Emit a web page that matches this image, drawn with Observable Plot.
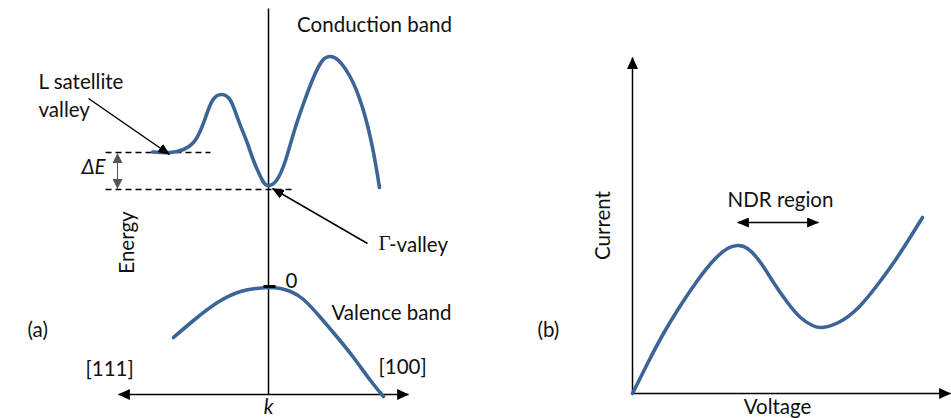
<!DOCTYPE html>
<html>
<head>
<meta charset="utf-8">
<script src="https://cdn.jsdelivr.net/npm/d3@7"></script>
<script src="https://cdn.jsdelivr.net/npm/@observablehq/plot@0.6"></script>
<style>
  html, body { margin: 0; padding: 0; background: #fff; }
  #wrap { display: flex; width: 951px; height: 418px; }
  svg { overflow: visible; }
</style>
</head>
<body>
<div id="wrap"></div>
<script>
// ---------- data ----------
// Panel (a): band structure, k (arbitrary units, 0 = Γ) vs energy (arbitrary units, 0 = valence top)
const condK = [-1.16, -0.98, -0.85, -0.75, -0.68, -0.63, -0.56, -0.47, -0.38, -0.30, -0.21, -0.15, -0.06, 0, 0.08, 0.17, 0.25, 0.35, 0.45, 0.54, 0.62, 0.70, 0.82, 0.94, 1.04, 1.11];
const condE = [1.355, 1.35, 1.38, 1.45, 1.57, 1.70, 1.87, 1.93, 1.87, 1.67, 1.44, 1.27, 1.07, 1.02, 1.07, 1.27, 1.54, 1.84, 2.10, 2.27, 2.31, 2.27, 2.10, 1.80, 1.40, 1.00];
const valK = [-0.95, -0.75, -0.51, -0.28, -0.12, 0, 0.12, 0.22, 0.35, 0.52, 0.69, 0.85, 1.02, 1.15];
const valE = [-0.50, -0.33, -0.15, -0.04, -0.01, 0, -0.01, -0.04, -0.12, -0.30, -0.50, -0.70, -0.93, -1.09];
const eL = 1.35;      // L satellite valley level
const eGamma = 0.98;  // Γ valley level (dashed)
// Panel (b): current-voltage curve (arbitrary units)
const ivV = [0, 0.15, 0.31, 0.48, 0.65, 0.81, 0.95, 1.05, 1.15, 1.28, 1.41, 1.55, 1.68, 1.80, 1.90, 2.06, 2.26, 2.46, 2.66, 2.90];
const ivI = [0, 0.30, 0.60, 0.88, 1.13, 1.33, 1.45, 1.48, 1.45, 1.31, 1.11, 0.91, 0.76, 0.68, 0.66, 0.71, 0.86, 1.10, 1.38, 1.76];
const ndrRange = [1.05, 1.86];

// ---------- text annotations ----------
const labelsA = [
  {text: "Conduction band", k: 1.06, e: 2.62, anchor: "middle"},
  {text: "L satellite\nvalley", k: -2.30, e: 1.935, anchor: "start"},
  {text: "Energy", k: -1.41, e: 0.45, anchor: "middle", rotate: -90},
  {text: "-valley", k: 1.205, e: 0.44, anchor: "start"},
  {text: "0", k: 0.17, e: 0.08, anchor: "start"},
  {text: "Valence band", k: 0.63, e: -0.24, anchor: "start"},
  {text: "(a)", k: -2.41, e: -0.41, anchor: "start"},
  {text: "[111]", k: -1.83, e: -0.80, anchor: "start"},
  {text: "[100]", k: 1.10, e: -0.78, anchor: "start"}
];
const labelsB = [
  {text: "NDR region", v: 1.48, i: 1.93, anchor: "middle"},
  {text: "Current", v: -0.29, i: 1.68, anchor: "middle", rotate: -90},
  {text: "Voltage", v: 1.45, i: -0.14, anchor: "middle"},
  {text: "(b)", v: -0.95, i: 0.65, anchor: "start"}
];

// ---------- helpers ----------
const FONT = "Lato, 'Open Sans', sans-serif";
const FS = 20.5;
const BLUE = "#3b6597";
function head(len, wid) {
  return (color) => {
    const ns = "http://www.w3.org/2000/svg";
    const m = document.createElementNS(ns, "marker");
    m.setAttribute("viewBox", "0 -5 10 10");
    m.setAttribute("refX", "9.5");
    m.setAttribute("refY", "0");
    m.setAttribute("markerWidth", len);
    m.setAttribute("markerHeight", wid);
    m.setAttribute("markerUnits", "userSpaceOnUse");
    m.setAttribute("preserveAspectRatio", "none");
    m.setAttribute("orient", "auto-start-reverse");
    const p = document.createElementNS(ns, "path");
    p.setAttribute("d", "M0,-5L10,0L0,5Z");
    p.setAttribute("fill", color === "currentColor" ? "#000" : color);
    p.setAttribute("stroke", "none");
    m.appendChild(p);
    return m;
  };
}
const bigHead = head(12, 11);
const midHead = head(12, 10);
const smallHead = head(10, 10);

const cond = condK.map((k, i) => ({k, e: condE[i]}));
const val = valK.map((k, i) => ({k, e: valE[i]}));
const iv = ivV.map((v, i) => ({v, i: ivI[i]}));

function textMarks(labels, xk, yk) {
  return [
    Plot.text(labels.filter(d => !d.rotate && d.anchor === "start"), {x: xk, y: yk, text: "text", textAnchor: "start", fill: "#111", lineHeight: 1.35}),
    Plot.text(labels.filter(d => !d.rotate && d.anchor === "middle"), {x: xk, y: yk, text: "text", textAnchor: "middle", fill: "#111"}),
    Plot.text(labels.filter(d => d.rotate), {x: xk, y: yk, text: "text", rotate: -90, fill: "#111"})
  ];
}

// ---------- panel (a) ----------
const plotA = Plot.plot({
  width: 480, height: 418,
  margin: 0,
  x: {domain: [-2.68, 2.12], range: [0, 480], axis: null},
  y: {domain: [-1.31, 2.87], range: [418, 0], axis: null},
  style: {fontFamily: FONT, fontSize: FS + "px", color: "#111", background: "transparent"},
  marks: [
    // vertical energy axis at k = 0
    Plot.link([0], {x1: 0, x2: 0, y1: 2.79, y2: -1.07, stroke: "#000", strokeWidth: 1.5}),
    // k axis with arrows on both ends
    Plot.link([0], {x1: -1.50, x2: 1.40, y1: -1.07, y2: -1.07, stroke: "#000", strokeWidth: 1.5,
      markerStart: bigHead, markerEnd: bigHead}),
    // dashed levels
    Plot.link([0], {x1: -1.63, x2: -0.58, y1: eL, y2: eL, stroke: "#000", strokeWidth: 1.4, strokeDasharray: "6,4"}),
    Plot.link([0], {x1: -1.63, x2: 0.23, y1: eGamma, y2: eGamma, stroke: "#000", strokeWidth: 1.4, strokeDasharray: "6,4"}),
    // ΔE double arrow
    Plot.link([0], {x1: -1.51, x2: -1.51, y1: eGamma + 0.01, y2: eL - 0.01, stroke: "#555", strokeWidth: 1,
      markerStart: smallHead, markerEnd: smallHead}),
    // bands
    Plot.line(cond, {x: "k", y: "e", stroke: BLUE, strokeWidth: 3.6, curve: "natural"}),
    Plot.line(val, {x: "k", y: "e", stroke: BLUE, strokeWidth: 3.6, curve: "natural"}),
    // zero tick
    Plot.link([0], {x1: -0.05, x2: 0.07, y1: 0.01, y2: 0.01, stroke: "#000", strokeWidth: 3}),
    // annotation arrows
    Plot.link([0], {x1: -1.80, y1: 1.89, x2: -0.99, y2: 1.33, stroke: "#000", strokeWidth: 1.5, markerEnd: midHead}),
    Plot.link([0], {x1: 0.99, y1: 0.44, x2: 0.04, y2: 0.99, stroke: "#000", strokeWidth: 1.5, markerEnd: midHead}),
    // labels
    ...textMarks(labelsA, "k", "e"),
    Plot.text(["Γ"], {x: 1.10, y: 0.44, text: d => d, textAnchor: "start", fontFamily: "'Liberation Serif', 'DejaVu Serif', serif", fontSize: 21, fill: "#111"}),
    Plot.text(["ΔE"], {x: -1.75, y: 1.20, text: d => d, fontStyle: "italic", fill: "#111"}),
    Plot.text(["k"], {x: 0, y: -1.20, text: d => d, fontStyle: "italic", fill: "#111"})
  ]
});

// ---------- panel (b) ----------
const plotB = Plot.plot({
  width: 471, height: 418,
  margin: 0,
  x: {domain: [-1.52, 3.19], range: [0, 471], axis: null},
  y: {domain: [-0.25, 3.93], range: [418, 0], axis: null},
  style: {fontFamily: FONT, fontSize: FS + "px", color: "#111", background: "transparent"},
  marks: [
    Plot.link([0], {x1: 0, x2: 0, y1: 0, y2: 3.36, stroke: "#000", strokeWidth: 1.5, markerEnd: bigHead}),
    Plot.link([0], {x1: 0, x2: 3.18, y1: 0, y2: 0, stroke: "#000", strokeWidth: 1.5, markerEnd: bigHead}),
    Plot.line(iv, {x: "v", y: "i", stroke: BLUE, strokeWidth: 3.6, curve: "natural"}),
    Plot.link([0], {x1: ndrRange[0], x2: ndrRange[1], y1: 1.71, y2: 1.71, stroke: "#000", strokeWidth: 1.5,
      markerStart: midHead, markerEnd: midHead}),
    ...textMarks(labelsB, "v", "i")
  ]
});

const wrap = document.getElementById("wrap");
wrap.appendChild(plotA);
wrap.appendChild(plotB);
</script>
</body>
</html>
